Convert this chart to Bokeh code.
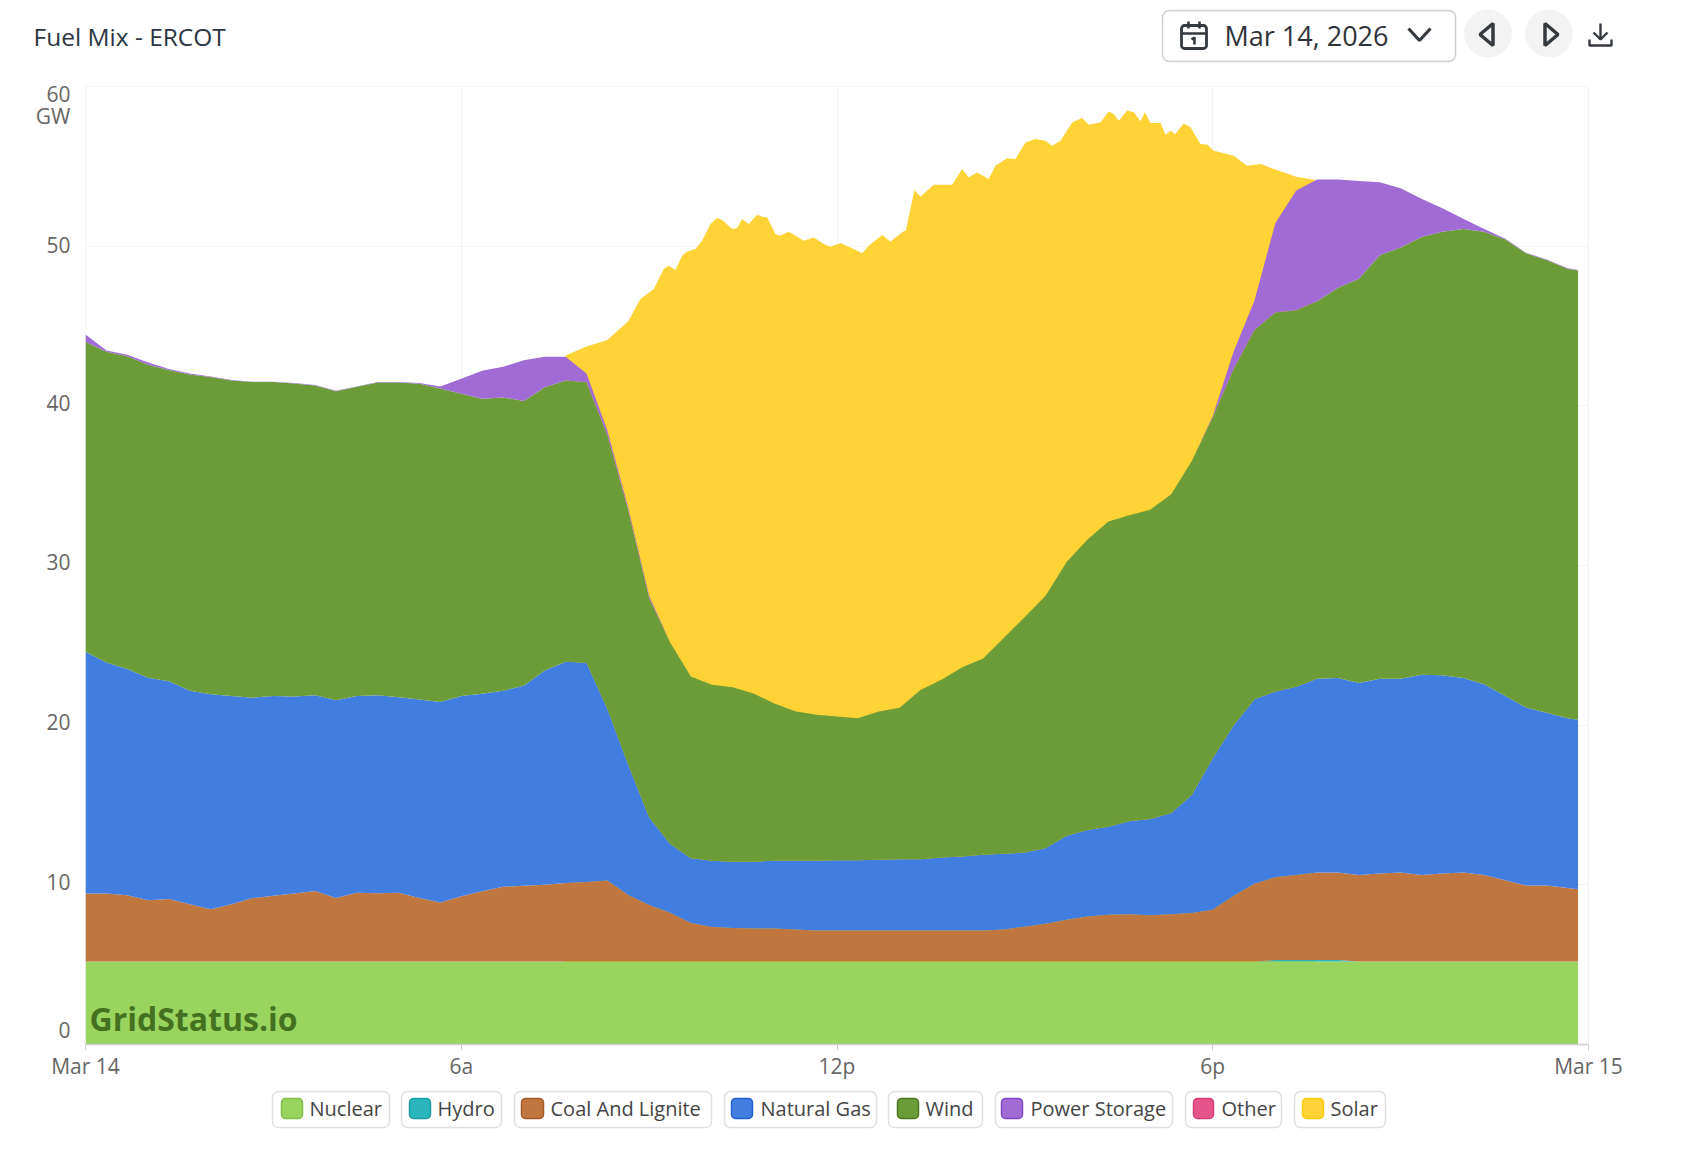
from bokeh.plotting import figure
from bokeh.layouts import column
from bokeh.models import ColumnDataSource, Range1d, FixedTicker, Label
from bokeh.core.properties import value
from bokeh.embed import file_html
from bokeh.resources import INLINE

FONT = "Open Sans"

# ---------- data (GW) ----------
minutes = list(range(0, 1440, 20)) + [1430]
nuclear = [5.2] * 73
hydro = [0.0] * 57 + [0.1, 0.1, 0.1, 0.1] + [0.0] * 12
coal = [4.25,4.25,4.14,3.84,3.92,3.59,3.27,3.59,3.97,4.11,4.25,4.41,3.97,4.30,4.27,4.30,3.97,3.70,
        4.08,4.40,4.68,4.75,4.81,4.91,4.97,5.07,4.17,3.53,3.05,2.41,2.16,2.10,2.06,2.06,2.00,1.94,
        1.94,1.94,1.94,1.94,1.94,1.94,1.94,1.94,2.01,2.18,2.36,2.61,2.82,2.92,2.96,2.89,2.96,3.03,
        3.24,4.11,4.87,5.18,5.32,5.48,5.48,5.42,5.51,5.58,5.42,5.51,5.58,5.42,5.09,4.76,4.76,4.60,4.53]
gas = [15.15,14.47,14.17,13.93,13.63,13.36,13.47,13.04,12.55,12.52,12.35,12.27,12.39,12.33,12.41,12.25,12.44,12.55,
       12.55,12.37,12.27,12.52,13.42,13.86,13.74,10.76,8.15,5.50,4.32,4.06,4.15,4.15,4.19,4.25,4.31,4.37,
       4.40,4.40,4.43,4.46,4.46,4.57,4.64,4.74,4.74,4.64,4.74,5.27,5.41,5.52,5.83,6.04,6.32,7.41,
       9.49,10.69,11.56,11.63,11.79,12.12,12.18,12.02,12.19,12.12,12.54,12.42,12.18,11.95,11.56,11.14,10.81,10.64,10.61]
wind = [19.41,19.47,19.60,19.60,19.50,19.82,19.87,19.76,19.77,19.66,19.60,19.39,19.36,19.36,19.58,19.71,19.77,19.63,
        18.92,18.48,18.37,17.83,17.73,17.61,17.57,17.12,15.93,13.72,12.62,11.38,11.02,10.92,10.54,9.84,9.36,9.14,
        9.01,8.89,9.28,9.49,10.61,11.14,11.84,12.30,13.53,14.76,15.82,17.14,18.20,19.12,19.15,19.36,19.96,20.91,
        21.36,22.30,23.12,23.74,23.58,23.65,24.44,25.32,26.53,27.02,27.42,27.77,28.11,28.33,28.59,28.45,28.37,28.14,28.14]
storage = [0.46,0.08,0.09,0.14,0.05,0.06,0.03,0.03,0.02,0.02,0.03,0.03,0.02,0.02,0.03,0.03,0.05,0.13,
           0.95,1.75,1.92,2.55,1.92,1.50,0.54,0.31,0.16,0.16] + [0.0] * 26 + [
           0.07,1.10,1.85,5.60,7.50,7.63,6.78,6.12,4.58,3.70,2.39,1.48,0.65,0.17,0.04,0.04,0.03,0.03,0.03]
other = [0.0] * 73

# the solar band's upper edge (whole stack including solar), read at a finer time step
solar_top_minutes = [460,480,500,520,531.7,544.5,554,558.8,565.2,571.6,576.4,584.4,590.8,598.8,605.2,610,619.5,624.3,
                     629.1,635.5,643.5,648.3,653.1,661,665.2,673.8,688.1,697.7,707.3,713.7,723.3,736,744.1,750.4,
                     763.2,771.2,783.9,785.9,794.2,799.9,812.7,830.3,839.9,846.2,854.2,865.4,871.8,883,891,900.5,
                     910.1,919.7,926.1,934.1,945.3,954.8,961.2,972.4,980.4,985.2,990,998,1004.4,1010.8,1015,1020.4,
                     1030,1034.8,1039.4,1044.2,1052.2,1058.6,1068.2,1074.6,1081,1100.1,1112.9,1125.7,1140,1160,1178]
solar_top = [43.15,43.72,44.13,45.30,46.69,47.32,48.57,48.78,48.51,49.40,49.67,49.82,50.34,51.39,51.76,51.64,51.08,51.12,
             51.70,51.39,51.97,51.85,51.80,50.76,50.66,50.91,50.34,50.55,50.14,49.97,50.20,49.82,49.55,50.03,
             50.70,50.30,50.93,50.97,53.52,53.10,53.85,53.85,54.83,54.31,54.62,54.21,55.04,55.50,55.46,56.50,
             56.71,56.61,56.29,56.61,57.75,58.03,57.61,57.75,58.44,58.28,57.86,58.49,58.38,57.82,58.38,57.72,
             57.72,56.98,57.23,57.03,57.69,57.44,56.40,56.36,55.98,55.67,55.04,55.15,54.80,54.34,54.15]

stack_names = ["Nuclear", "Hydro", "Coal And Lignite", "Natural Gas", "Wind", "Power Storage", "Other"]
stack_values = [nuclear, hydro, coal, gas, wind, storage, other]
legend_names = stack_names + ["Solar"]
area_colors = ["#99d45f", "#2bb5bd", "#c0763f", "#427de0", "#6b9c38", "#a16bd5", "#e5558b", "#ffd235"]
edge_colors = ["#82bd47", "#1f9fa6", "#a85a28", "#2461d0", "#4a7a22", "#8447cb", "#d83f78", "#ffc910"]

x_ticks = [0, 360, 720, 1080, 1440]
x_labels = ["Mar 14", "6a", "12p", "6p", "Mar 15"]
y_ticks = [0, 10, 20, 30, 40, 50, 60]
# where the y labels sit, in GW: the reference nudges them off their gridlines
y_label_at = [0.88, 10.2, 20.2, 30.2, 40.2, 50.1, 59.56, 58.18]
y_label_text = ["0", "10", "20", "30", "40", "50", "60", "GW"]

# legend chrome: box left, box right, swatch left, swatch right, text left
legend_boxes = [(272, 389, 281, 302, 309), (401, 501, 409, 430, 437), (514, 711, 521, 543, 550),
                (724, 876, 731, 752, 760), (888, 982, 897, 918, 925), (995, 1172, 1001, 1022, 1030),
                (1185, 1281, 1193, 1213, 1221), (1294, 1385, 1302, 1323, 1330)]

PAGE_L, PAGE_R = 0, 1680


def chrome(top, bottom):
    f = figure(width=PAGE_R - PAGE_L, height=bottom - top, output_backend="svg", toolbar_location=None,
               x_range=Range1d(PAGE_L, PAGE_R), y_range=Range1d(bottom, top), frame_align=False,
               min_border=0, min_border_left=0, min_border_right=0, min_border_top=0, min_border_bottom=0)
    f.axis.visible = False
    f.grid.visible = False
    f.outline_line_color = None
    return f


# ---------- header ----------
head = chrome(0, 76)
head.text([33], [36], text=["Fuel Mix - ERCOT"], text_font=value(FONT), text_font_size="24.5px", text_font_style="normal",
          text_color="#2b3642", text_baseline="middle")
head.quad(left=[1162], right=[1455], top=[10], bottom=[61], fill_color="#ffffff", line_color="#cfcfcf",
          line_width=1.5, border_radius=7)
head.text([1224], [35], text=["Mar 14, 2026"], text_font=value(FONT), text_font_size="27px",
          text_color="#2f3338", text_baseline="middle")
ICON = "#343a40"
head.quad(left=[1181], right=[1206], top=[25], bottom=[48], fill_color=None, line_color=ICON, line_width=2.8, border_radius=3)
head.multi_line(xs=[[1181, 1206], [1188, 1188], [1199, 1199], [1191, 1194, 1194]],
                ys=[[33, 33], [21, 28], [21, 28], [39, 37, 44]], line_color=ICON, line_width=2.6)
head.line([1408, 1419, 1430], [28, 40, 28], line_color=ICON, line_width=3.2)
head.circle(x=[1487.5, 1548.5], y=[33, 33], radius=24, fill_color="#f3f3f3", line_color=None)
head.patch([1492.5, 1479.5, 1492.5], [23, 34, 45], fill_color="#f3f3f3", line_color=ICON, line_width=3.5)
head.patch([1544.5, 1557.5, 1544.5], [23, 34, 45], fill_color="#f3f3f3", line_color=ICON, line_width=3.5)
head.multi_line(xs=[[1600, 1600], [1593, 1600, 1607], [1589, 1589, 1611, 1611]],
                ys=[[23, 38], [32, 39, 32], [39, 45, 45, 39]], line_color=ICON, line_width=2.4)

# ---------- chart ----------
source = ColumnDataSource({"minutes": minutes, **dict(zip(stack_names, stack_values))})
p = figure(width=PAGE_R - PAGE_L, height=1014, output_backend="svg", toolbar_location=None,
           x_range=Range1d(0, 1440), y_range=Range1d(0, 60), frame_align=False,
           min_border_left=85, min_border_right=92, min_border_top=10, min_border_bottom=46)
p.varea(x=solar_top_minutes, y1=[0] * len(solar_top), y2=solar_top, color=area_colors[-1])
p.varea_stack(stackers=stack_names, x="minutes", color=area_colors[:-1], source=source)

p.outline_line_color = "#f4f4f4"
p.background_fill_color = "#ffffff"
p.xaxis.ticker = FixedTicker(ticks=x_ticks)
p.xaxis.major_label_overrides = dict(zip(x_ticks, x_labels))
p.xaxis.major_label_text_font = FONT
p.xaxis.major_label_text_font_size = "21px"
p.xaxis.major_label_text_color = "#666666"
p.xaxis.major_label_standoff = 1
p.xaxis.axis_line_color = "#cccccc"
p.xaxis.axis_line_width = 1.5
p.xaxis.major_tick_line_color = "#cccccc"
p.xaxis.major_tick_in = 0
p.xaxis.major_tick_out = 6
p.xaxis.minor_tick_line_color = None

p.yaxis.ticker = FixedTicker(ticks=y_label_at)
p.yaxis.major_label_overrides = dict(zip(y_label_at, y_label_text))
p.yaxis.major_label_text_font = FONT
p.yaxis.major_label_text_font_size = "21px"
p.yaxis.major_label_text_color = "#666666"
p.yaxis.major_label_standoff = 9
p.yaxis.axis_line_color = None
p.yaxis.major_tick_line_color = None
p.yaxis.minor_tick_line_color = None
p.xgrid.grid_line_color = "#f3f3f3"
p.ygrid.grid_line_color = "#f3f3f3"
p.ygrid[0].ticker = FixedTicker(ticks=y_ticks)

p.add_layout(Label(x=4, y=26, x_units="screen", y_units="screen", text="GridStatus.io", text_align="left",
                   text_baseline="alphabetic", text_font=FONT, text_font_size="32px", text_font_style="bold",
                   text_color="#3e6b1c", text_alpha=0.95))

# ---------- legend ----------
leg = chrome(1090, 1140)
for name, fill, edge, (bl, br, sl, sr, tl) in zip(legend_names, area_colors, edge_colors, legend_boxes):
    leg.quad(left=[bl], right=[br], top=[1091], bottom=[1127], fill_color="#ffffff", line_color="#dcdfe3",
             line_width=1.5, border_radius=6)
    leg.quad(left=[sl], right=[sr], top=[1098], bottom=[1118], fill_color=fill, line_color=edge, line_width=1.5,
             border_radius=4)
    leg.text([tl], [1108], text=[name], text_font=value(FONT), text_font_size="20px", text_color="#444444",
             text_baseline="middle")

page = column(head, p, leg, spacing=0)
open("out.html", "w").write(file_html(page, INLINE))
